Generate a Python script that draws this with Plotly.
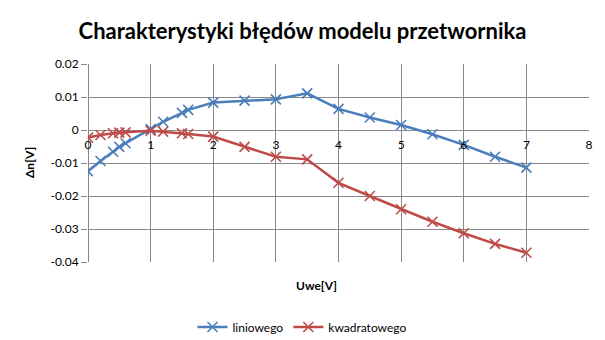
import plotly.graph_objects as go

# Napięcie wejściowe [V] i błędy modelu [V]
uwe = [0, 0.2, 0.4, 0.5, 0.6, 1.0, 1.2, 1.5, 1.6, 2.0, 2.5, 3.0, 3.5, 4.0, 4.5, 5.0, 5.5, 6.0, 6.5, 7.0]
err_liniowy = [-0.0125, -0.0094, -0.0066, -0.0051, -0.0040, 0.0003, 0.0025, 0.0052, 0.0061, 0.0083,
               0.0089, 0.0093, 0.0111, 0.0064, 0.0038, 0.0015, -0.0013, -0.0045, -0.0081, -0.0114]
err_kwadratowy = [-0.0023, -0.0015, -0.0010, -0.0008, -0.0007, -0.0002, -0.0005, -0.0010, -0.0012, -0.0020,
                  -0.0051, -0.0081, -0.0089, -0.0160, -0.0200, -0.0240, -0.0278, -0.0313, -0.0345, -0.0372]

y_ticks = [0.02, 0.01, 0, -0.01, -0.02, -0.03, -0.04]
y_ticktext = ["0.02", "0.01", "0", "-0.01", "-0.02", "-0.03", "-0.04"]
x_ticks = [0, 1, 2, 3, 4, 5, 6, 7, 8]

FONT = "Lato, 'DejaVu Sans', sans-serif"
GRID = "#888888"
BLUE = "#4A7EBB"
RED = "#BE4B48"

fig = go.Figure()
fig.add_trace(go.Scatter(
    x=uwe, y=err_liniowy, name="liniowego", mode="lines+markers",
    line=dict(color=BLUE, width=2.5),
    marker=dict(symbol="x-thin", size=10, line=dict(color=BLUE, width=1.6)),
))
fig.add_trace(go.Scatter(
    x=uwe, y=err_kwadratowy, name="kwadratowego", mode="lines+markers",
    line=dict(color=RED, width=2.5),
    marker=dict(symbol="x-thin", size=10, line=dict(color=RED, width=1.6)),
))

y_min, y_max = -0.04, 0.02
fig.update_layout(
    width=605, height=340,
    margin=dict(l=88, r=16, t=64, b=78, autoexpand=False),
    paper_bgcolor="white", plot_bgcolor="white",
    font=dict(family=FONT, size=12, color="#000000"),
    title=dict(text="<b>Charakterystyki błędów modelu przetwornika</b>",
               x=0.5, xanchor="center", y=1 - 31 / 340, yanchor="middle",
               font=dict(family=FONT, size=22, color="#000000")),
    xaxis=dict(range=[0, 8], tickvals=x_ticks, showgrid=True, gridcolor=GRID, gridwidth=1,
               zeroline=True, zerolinecolor=GRID, zerolinewidth=1, showline=False,
               anchor="free", position=(0 - y_min) / (y_max - y_min),
               ticks="", ticklabelstandoff=6, tickfont=dict(size=12)),
    yaxis=dict(range=[y_min, y_max], tickvals=y_ticks, ticktext=y_ticktext,
               showgrid=True, gridcolor=GRID, gridwidth=1,
               zeroline=True, zerolinecolor=GRID, zerolinewidth=1,
               showline=False, ticks="outside", ticklen=6, tickcolor=GRID,
               tickfont=dict(size=12)),
    legend=dict(orientation="h", xref="container", yref="container",
                x=302 / 605, xanchor="center", y=1 - 327 / 340, yanchor="middle",
                font=dict(size=12)),
    showlegend=True,
    annotations=[
        dict(text="<b>Uwe[V]</b>", xref="paper", yref="paper", x=(316 - 88) / 501, y=-(285 - 262) / 198,
             xanchor="center", yanchor="middle", showarrow=False, font=dict(size=12)),
        dict(text="<b>Δn[V]</b>", xref="paper", yref="paper", x=-(88 - 29) / 501, y=(262 - 163) / 198,
             xanchor="center", yanchor="middle", textangle=-90, showarrow=False,
             font=dict(size=12)),
    ],
)

fig.write_html("out.html")
